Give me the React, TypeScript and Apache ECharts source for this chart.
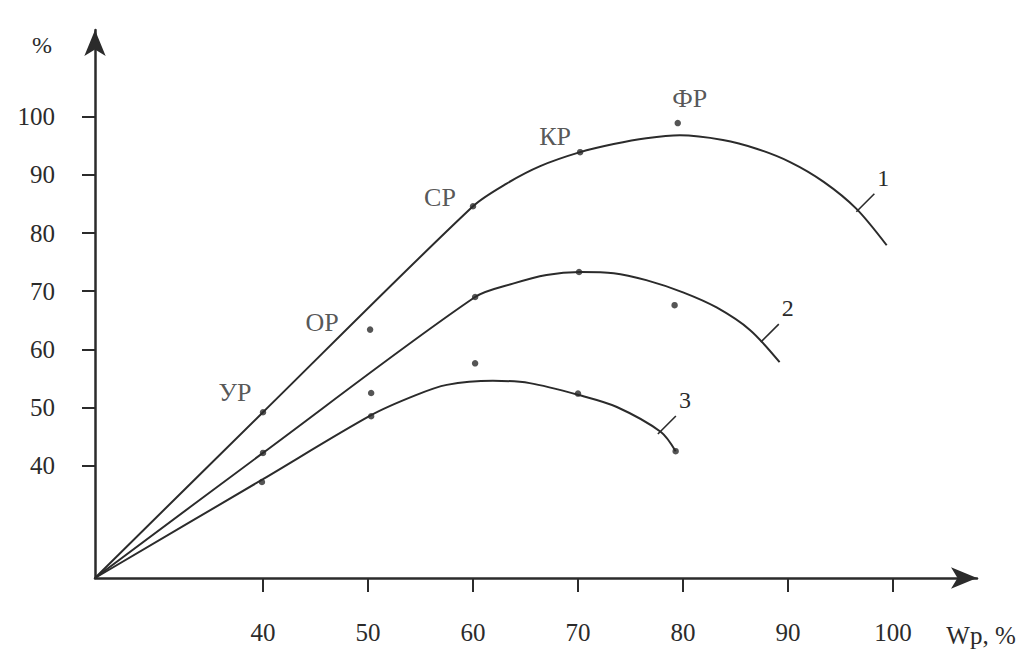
import React, { useEffect, useRef } from "react";
import * as echarts from "echarts";

// Axis ticks
const xTicks = [40, 50, 60, 70, 80, 90, 100];
const yTicks = [40, 50, 60, 70, 80, 90, 100];

// Smooth curves
const curve1 = [
  [24, 20.7], [40, 49.2], [60.0, 84.6], [63.2, 88.5], [66.4, 91.5], [70.2, 93.9],
  [73.4, 95.3], [76.5, 96.3], [79.7, 96.8], [83.8, 96.0], [87.0, 94.5],
  [90.2, 92.2], [93.4, 88.8], [96.5, 84.2], [99.4, 77.9],
];
const curve2 = [
  [24, 20.7], [40, 42.2], [60.2, 69.0], [63.8, 71.3], [67.0, 72.8], [70.2, 73.3],
  [73.4, 73.1], [76.5, 71.9], [80.0, 69.8], [83.2, 67.2], [86.4, 63.3], [89.2, 57.8],
];
const curve3 = [
  [24, 20.7], [40, 37.7], [50.3, 48.7], [54.5, 52.1], [57.5, 53.9], [61.9, 54.6],
  [65.4, 54.2], [70.2, 52.1], [73.7, 50.1], [77.9, 45.8], [79.3, 42.5],
];

// Measured points
const dots1 = [[40, 49.2], [50.2, 63.4], [60, 84.6], [70.2, 93.9], [79.5, 98.9]];
const dotLabels1 = ["УР", "ОР", "СР", "КР", "ФР"];
const dotLabelOffsets = [[-28, -20], [-48, -7], [-33, -9], [-25, -16], [12, -25]];
const dots2 = [[40, 42.2], [50.3, 52.5], [60.2, 69.0], [70.1, 73.3], [79.2, 67.6]];
const dots3 = [[39.9, 37.2], [50.3, 48.5], [60.2, 57.6], [70, 52.4], [79.3, 42.5]];

// Curve number tags (anchor on curve)
const curveTags = [
  { label: "1", at: [96.7, 84.0] },
  { label: "2", at: [87.6, 61.6] },
  { label: "3", at: [77.8, 45.8] },
];

const INK = "#2b2b2b";
const FONT = "'Liberation Serif', 'DejaVu Serif', serif";

export default function App() {
  const ref = useRef<HTMLDivElement>(null);

  useEffect(() => {
    if (!ref.current) return;
    const chart = echarts.init(ref.current, null, { renderer: "svg" });

    const lineSeries = (data: number[][]) => ({
      type: "line",
      data,
      smooth: 0.3,
      showSymbol: false,
      symbol: "none",
      lineStyle: { color: INK, width: 2 },
      z: 2,
    });
    const dotSeries = (data: any[]) => ({
      type: "scatter",
      data,
      symbol: "circle",
      symbolSize: 6.5,
      itemStyle: { color: INK },
      z: 3,
    });

    chart.setOption({
      animation: false,
      backgroundColor: "#ffffff",
      grid: { left: 95, top: 30, width: 882, height: 548, containLabel: false },
      xAxis: {
        type: "value",
        min: 24,
        max: 108,
        splitLine: { show: false },
        axisLine: {
          onZero: false,
          symbol: ["none", "arrow"],
          symbolSize: [16, 26],
          lineStyle: { color: INK, width: 2.5 },
        },
        axisTick: { show: true, customValues: xTicks, length: 14, inside: false, lineStyle: { color: INK, width: 2 } },
        axisLabel: { customValues: xTicks, color: INK, fontFamily: FONT, fontSize: 25, margin: 42 },
      },
      yAxis: {
        type: "value",
        min: 20.7,
        max: 114.9,
        splitLine: { show: false },
        axisLine: {
          onZero: false,
          symbol: ["none", "arrow"],
          symbolSize: [16, 26],
          lineStyle: { color: INK, width: 2.5 },
        },
        axisTick: { show: true, customValues: yTicks, length: 13, inside: false, lineStyle: { color: INK, width: 2 } },
        axisLabel: { customValues: yTicks, color: INK, fontFamily: FONT, fontSize: 25, margin: 40 },
      },
      series: [
        lineSeries(curve1),
        lineSeries(curve2),
        lineSeries(curve3),
        dotSeries(
          dots1.map((d, i) => ({
            value: d,
            label: {
              show: true,
              formatter: dotLabels1[i],
              position: "inside",
              offset: dotLabelOffsets[i],
              color: INK,
              fontFamily: FONT,
              fontSize: 26,
            },
          }))
        ),
        dotSeries(dots2),
        dotSeries(dots3),
      ],
    });

    const tagGraphics: any[] = [];
    curveTags.forEach((t, i) => {
      const p = chart.convertToPixel({ gridIndex: 0 }, t.at) as number[];
      tagGraphics.push({
        id: "tagline" + i,
        type: "line",
        shape: { x1: p[0] - 2, y1: p[1] + 2, x2: p[0] + 16, y2: p[1] - 16 },
        style: { stroke: INK, lineWidth: 1.6 },
      });
      tagGraphics.push({
        id: "tagtext" + i,
        type: "text",
        x: p[0] + 25,
        y: p[1] - 32,
        style: {
          text: t.label,
          fill: INK,
          font: `24px ${FONT}`,
          textAlign: "center",
          textVerticalAlign: "middle",
        },
      });
    });

    chart.setOption({
      graphic: [
        {
          id: "yname",
          type: "text",
          x: 42,
          y: 45,
          style: { text: "%", fill: INK, font: `24px ${FONT}`, textAlign: "center", textVerticalAlign: "middle" },
        },
        {
          id: "xname",
          type: "text",
          x: 981,
          y: 635,
          style: { text: "Wp, %", fill: INK, font: `25px ${FONT}`, textAlign: "center", textVerticalAlign: "middle" },
        },
        ...tagGraphics,
      ],
    });

    return () => chart.dispose();
  }, []);

  return (
    <div
      ref={ref}
      style={{ position: "fixed", left: 0, top: 0, width: 1024, height: 649, background: "#fff" }}
    />
  );
}
